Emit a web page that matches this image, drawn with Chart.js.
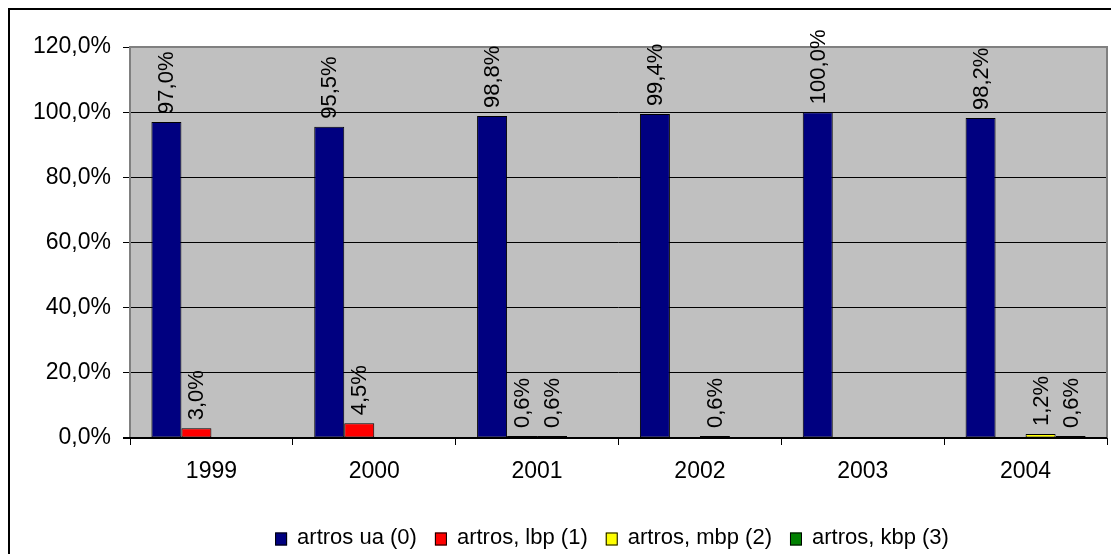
<!DOCTYPE html>
<html>
<head>
<meta charset="utf-8">
<script src="https://cdn.jsdelivr.net/npm/chart.js@4.4.1/dist/chart.umd.min.js"></script>
<style>
html,body{margin:0;padding:0;background:#fff;}
#wrap{width:1111px;height:554px;position:relative;}
</style>
</head>
<body>
<div id="wrap"><canvas id="c" width="1111" height="554"></canvas></div>
<script>
const categories = ['1999', '2000', '2001', '2002', '2003', '2004'];
const seriesLabels = ['artros ua (0)', 'artros, lbp (1)', 'artros, mbp (2)', 'artros, kbp (3)'];
const seriesColors = ['#000080', '#FF0000', '#FFFF00', '#008000'];
const uaValues  = [97.0, 95.5, 98.8, 99.4, 100.0, 98.2];
const lbpValues = [3.0, 4.5, 0.6, 0, 0, 0];
const mbpValues = [0, 0, 0.6, 0.6, 0, 1.2];
const kbpValues = [0, 0, 0, 0, 0, 0.6];
const yTicks = [0, 20, 40, 60, 80, 100, 120];

const FONT = "'Liberation Sans', Arial, sans-serif";
const fmt = v => v.toFixed(1).replace('.', ',') + '%';

const frame = {
  id: 'frame',
  beforeDraw(chart) {
    const ctx = chart.ctx, a = chart.chartArea;
    ctx.save();
    ctx.fillStyle = '#C0C0C0';
    ctx.fillRect(a.left, a.top, a.right - a.left, a.bottom - a.top);
    ctx.strokeStyle = '#000';
    ctx.lineWidth = 2;
    ctx.strokeRect(9, 9, 1300, 800);
    ctx.restore();
  },
  beforeDatasetsDraw(chart) {
    const ctx = chart.ctx, a = chart.chartArea;
    ctx.save();
    ctx.strokeStyle = '#808080';
    ctx.lineWidth = 2;
    ctx.beginPath();
    ctx.moveTo(a.left, a.bottom);
    ctx.lineTo(a.left, a.top);
    ctx.lineTo(a.right, a.top);
    ctx.lineTo(a.right, a.bottom);
    ctx.stroke();
    ctx.strokeStyle = '#000';
    ctx.beginPath();
    ctx.moveTo(a.left - 7, a.bottom);
    ctx.lineTo(a.right, a.bottom);
    ctx.stroke();
    ctx.restore();
  }
};

const valueLabels = {
  id: 'valueLabels',
  afterDatasetsDraw(chart) {
    const ctx = chart.ctx;
    ctx.save();
    ctx.font = '22px ' + FONT;
    ctx.fillStyle = '#000';
    ctx.textAlign = 'left';
    ctx.textBaseline = 'alphabetic';
    chart.data.datasets.forEach((ds, i) => {
      const meta = chart.getDatasetMeta(i);
      meta.data.forEach((el, j) => {
        const v = ds.data[j];
        if (!v) return;
        ctx.save();
        ctx.translate(el.x + 7, el.y - 8);
        ctx.rotate(-Math.PI / 2);
        ctx.fillText(fmt(v), 0, 0);
        ctx.restore();
      });
    });
    ctx.restore();
  }
};

const customLegend = {
  id: 'customLegend',
  afterDraw(chart) {
    const ctx = chart.ctx;
    ctx.save();
    ctx.font = '22px ' + FONT;
    const box = 12, boxH = 13, gapText = 10, gapItem = 18;
    const items = chart.data.datasets.map(ds => ({ label: ds.label, color: ds.backgroundColor, w: ctx.measureText(ds.label).width }));
    let total = 0;
    items.forEach((it, i) => { total += box + gapText + it.w + (i < items.length - 1 ? gapItem : 0); });
    let x = 612 - total / 2;
    const cy = 538;
    ctx.textBaseline = 'middle';
    ctx.textAlign = 'left';
    items.forEach(it => {
      ctx.fillStyle = it.color;
      ctx.fillRect(x, cy - boxH / 2 + 1, box, boxH);
      ctx.strokeStyle = '#000';
      ctx.lineWidth = 1;
      ctx.strokeRect(x + 0.5, cy - boxH / 2 + 1.5, box - 1, boxH - 1);
      ctx.fillStyle = '#000';
      ctx.fillText(it.label, x + box + gapText, cy);
      x += box + gapText + it.w + gapItem;
    });
    ctx.restore();
  }
};

const datasets = [uaValues, lbpValues, mbpValues, kbpValues].map((d, i) => ({
  label: seriesLabels[i],
  data: d,
  backgroundColor: seriesColors[i],
  borderColor: '#000',
  borderWidth: c => (c.raw ? 1 : 0),
  borderSkipped: false,
  categoryPercentage: 0.737,
  barPercentage: 1.0
}));

new Chart(document.getElementById('c'), {
  type: 'bar',
  data: { labels: categories, datasets },
  options: {
    responsive: false,
    animation: false,
    layout: { padding: { left: 0, top: 47, right: 4, bottom: 0 } },
    plugins: { legend: { display: false }, tooltip: { enabled: false } },
    scales: {
      x: {
        afterFit(s) { s.height = 116; },
        grid: { display: true, drawOnChartArea: false, offset: true, color: '#000', tickLength: 7, lineWidth: 1 },
        border: { display: false },
        ticks: { color: '#000', font: { family: FONT, size: 23 }, padding: 13, maxRotation: 0 }
      },
      y: {
        min: 0, max: 120,
        afterFit(s) { s.width = 130; },
        afterBuildTicks(s) { s.ticks = yTicks.map(v => ({ value: v })); },
        grid: { color: '#000', tickColor: '#000', tickLength: 7, lineWidth: 1 },
        border: { display: false },
        ticks: { color: '#000', font: { family: FONT, size: 23 }, padding: 12, callback: v => fmt(v) }
      }
    }
  },
  plugins: [frame, valueLabels, customLegend]
});
</script>
</body>
</html>
